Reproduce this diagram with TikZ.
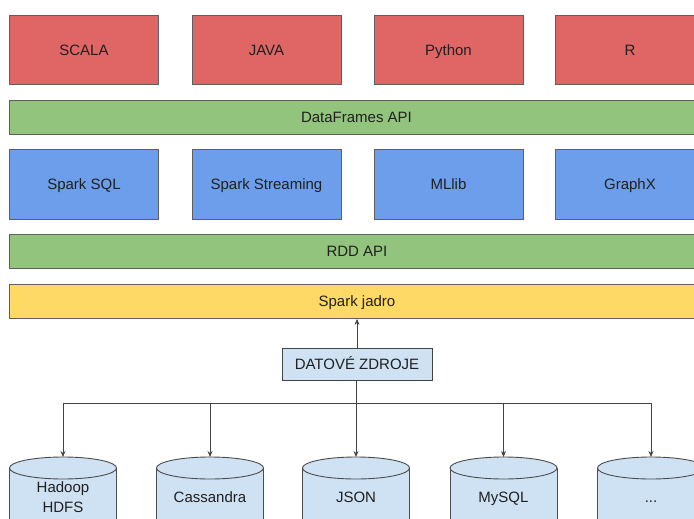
\documentclass[tikz,border=0pt]{standalone}
\usepackage{fontspec}
\setmainfont{Liberation Sans}
\usetikzlibrary{arrows.meta}
\definecolor{cred}{HTML}{E06666}
\definecolor{cgreen}{HTML}{93C47D}
\definecolor{cblue}{HTML}{6D9EEB}
\definecolor{cyellow}{HTML}{FFD966}
\definecolor{clight}{HTML}{CFE2F3}
\definecolor{cedge}{HTML}{5F5F5F}
\definecolor{ctext}{HTML}{202020}
\tikzset{
  txt/.style={text=ctext, font=\fontsize{15}{18}\selectfont, text height=10.7pt, text depth=0pt},
  box/.style={txt, draw=cedge, line width=0.9pt, minimum width=149pt, minimum height=69pt, inner sep=0pt, anchor=north west},
  bar/.style={txt, draw=cedge, line width=0.9pt, minimum width=695pt, minimum height=34pt, inner sep=0pt, anchor=north west},
  lbl/.style={txt, inner sep=0pt},
  lbltwo/.style={text=ctext, font=\fontsize{15}{18}\selectfont, align=center, inner sep=0pt},
  conn/.style={draw=cedge!70!black, line width=0.75pt},
  arr/.style={conn, -{Stealth[length=6pt,width=5pt]}},
  cyledge/.style={draw=cedge!80!black, line width=0.9pt}
}
\newcommand{\dbcyl}[5]{% name, cx, text, text y, label style
  \fill[clight] (#2-53.5,468) rectangle (#2+53.5,540);
  \draw[cyledge] (#2-53.5,468) -- (#2-53.5,540);
  \draw[cyledge] (#2+53.5,468) -- (#2+53.5,540);
  \draw[cyledge, fill=clight] (#2,468) ellipse [x radius=53.5, y radius=11];
  \coordinate (#1top) at (#2,457);
  \node[#5] (#1) at (#2,#4) {#3};
}
\begin{document}
\begin{tikzpicture}[x=1pt,y=-1pt]
\clip (0,0) rectangle (694,519);
\useasboundingbox (0,0) rectangle (694,519);
% language row
\node[box, fill=cred] (scala) at (9,15) {SCALA};
\node[box, fill=cred] (java) at (191.5,15) {JAVA};
\node[box, fill=cred] (python) at (373.5,15) {Python};
\node[box, fill=cred] (r) at (555,15) {R};
% dataframes
\node[bar, fill=cgreen] (df) at (9,100) {\hspace*{-1pt}DataFrames API};
% libraries
\node[box, fill=cblue, minimum height=70pt] (sql) at (9,149) {Spark SQL};
\node[box, fill=cblue, minimum height=70pt] (stream) at (191.5,149) {Spark Streaming};
\node[box, fill=cblue, minimum height=70pt] (mllib) at (373.5,149) {MLlib};
\node[box, fill=cblue, minimum height=70pt] (graphx) at (555,149) {GraphX};
% rdd + core
\node[bar, fill=cgreen] (rdd) at (9,234) {RDD API};
\node[bar, fill=cyellow] (core) at (9,284) {Spark jadro};
% data sources
\node[txt, draw=cedge!70!black, line width=0.9pt, fill=clight, minimum width=150pt, minimum height=32pt, inner sep=0pt] (src) at (357,364) {DATOVÉ ZDROJE};
\draw[arr] (src.north) -- (core.south -| src.north);
% cylinders
\dbcyl{hdfs}{63}{Hadoop\\[2pt]HDFS}{497}{lbltwo}
\dbcyl{cass}{210}{Cassandra}{497}{lbl}
\dbcyl{json}{356}{JSON}{497}{lbl}
\dbcyl{mysql}{503.5}{MySQL}{497}{lbl}
\dbcyl{more}{651}{...}{497}{lbl}
\coordinate (hub) at (356,403);
\draw[conn] (src.south -| hub) -- (hub);
\draw[conn] (hub -| hdfstop) -- (hub -| moretop);
\draw[arr] (hub -| hdfstop) -- (hdfstop);
\draw[arr] (hub -| casstop) -- (casstop);
\draw[arr] (hub) -- (jsontop);
\draw[arr] (hub -| mysqltop) -- (mysqltop);
\draw[arr] (hub -| moretop) -- (moretop);
\end{tikzpicture}
\end{document}
